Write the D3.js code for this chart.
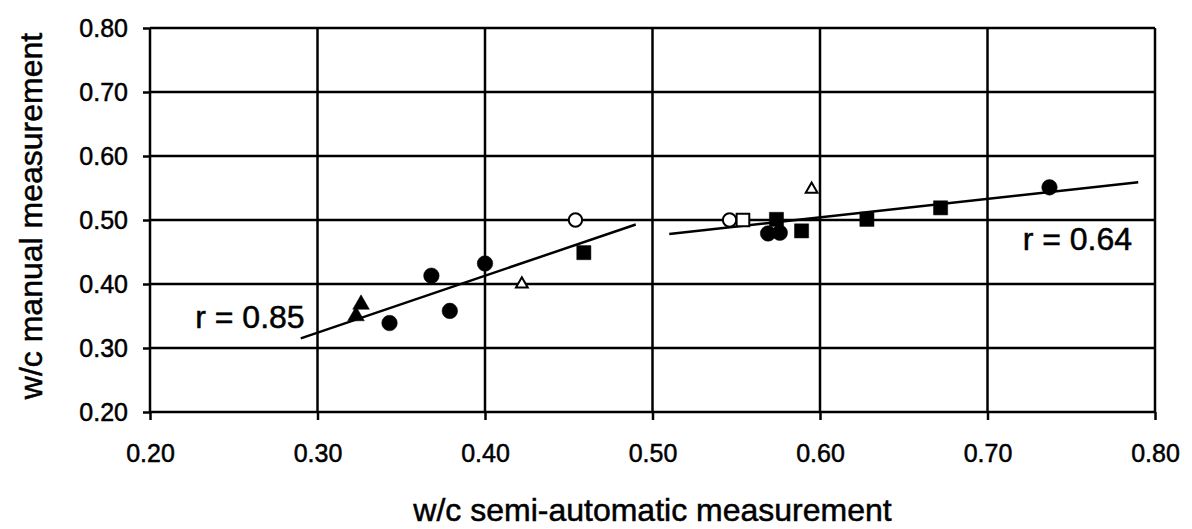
<!DOCTYPE html>
<html>
<head>
<meta charset="utf-8">
<script src="https://cdn.jsdelivr.net/npm/d3@7"></script>
<style>
  body { margin: 0; background: #fff; }
  svg { display: block; font-family: "Liberation Sans", Arial, sans-serif; }
  svg text { fill: #000; stroke: #000; stroke-width: 0.5; }
  .axis text { font-size: 25px; }
  .axis path, .axis line { stroke: #000; stroke-width: 2.5; }
  .grid line { stroke: #000; stroke-width: 2.5; }
  .title { font-size: 32px; }
</style>
</head>
<body>
<svg id="chart" width="1192" height="529"></svg>
<script>
// tick values
const xTicks = [0.20, 0.30, 0.40, 0.50, 0.60, 0.70, 0.80];
const yTicks = [0.20, 0.30, 0.40, 0.50, 0.60, 0.70, 0.80];

// points: [semi-automatic, manual]
const filledCircles = [[0.343, 0.339], [0.368, 0.413], [0.379, 0.358], [0.400, 0.432],
                       [0.569, 0.479], [0.576, 0.480], [0.737, 0.551]];
const filledTriangles = [[0.326, 0.368], [0.323, 0.350]];
const filledSquares = [[0.459, 0.449], [0.574, 0.501], [0.589, 0.483], [0.628, 0.501], [0.672, 0.519]];
const openCircles = [[0.454, 0.500], [0.546, 0.500]];
const openSquares = [[0.554, 0.500]];
const openTriangles = [[0.422, 0.400], [0.595, 0.548]];

// fitted lines and their labels
const fitLeft = [[0.290, 0.315], [0.490, 0.493]];
const fitRight = [[0.510, 0.478], [0.790, 0.559]];
const rLabels = [
    { text: "r = 0.85", x: 0.227, y: 0.331 },
    { text: "r = 0.64", x: 0.721, y: 0.453 }
];

const svg = d3.select("#chart");
const plotLeft = 150, plotRight = 1155, plotTop = 28, plotBottom = 412;

const x = d3.scaleLinear().domain([0.2, 0.8]).range([plotLeft, plotRight]);
const y = d3.scaleLinear().domain([0.2, 0.8]).range([plotBottom, plotTop]);

// grid
const grid = svg.append("g").attr("class", "grid");
grid.selectAll("line.h").data(yTicks).join("line")
    .attr("class", "h")
    .attr("x1", plotLeft).attr("x2", plotRight)
    .attr("y1", d => y(d)).attr("y2", d => y(d));
grid.selectAll("line.v").data(xTicks).join("line")
    .attr("class", "v")
    .attr("x1", d => x(d)).attr("x2", d => x(d))
    .attr("y1", plotTop).attr("y2", plotBottom);

// axes
svg.append("g").attr("class", "axis")
    .attr("transform", `translate(${plotLeft},0)`)
    .call(d3.axisLeft(y).tickValues(yTicks).tickFormat(d3.format(".2f"))
        .tickSize(7).tickPadding(15).tickSizeOuter(0))
    .call(g => g.select(".domain").remove());

svg.append("g").attr("class", "axis")
    .attr("transform", `translate(0,${plotBottom})`)
    .call(d3.axisBottom(x).tickValues(xTicks).tickFormat(d3.format(".2f"))
        .tickSize(8).tickPadding(24).tickSizeOuter(0))
    .call(g => g.select(".domain").remove());

// fitted lines
const line = d3.line().x(d => x(d[0])).y(d => y(d[1]));
[fitLeft, fitRight].forEach(fit => {
    svg.append("path")
        .attr("d", line(fit))
        .attr("fill", "none")
        .attr("stroke", "#000")
        .attr("stroke-width", 2.5);
});

// markers
function drawMarkers(data, type, size, filled) {
    svg.append("g").selectAll("path").data(data).join("path")
        .attr("transform", d => `translate(${x(d[0])},${y(d[1])})`)
        .attr("d", d3.symbol().type(type).size(size))
        .attr("fill", filled ? "#000" : "#fff")
        .attr("stroke", "#000")
        .attr("stroke-width", filled ? 0.5 : 2);
}

drawMarkers(openCircles, d3.symbolCircle, 140, false);
drawMarkers(openSquares, d3.symbolSquare, 160, false);
drawMarkers(openTriangles, d3.symbolTriangle, 60, false);
drawMarkers(filledSquares, d3.symbolSquare, 200, true);
drawMarkers(filledTriangles, d3.symbolTriangle, 120, true);
drawMarkers(filledCircles, d3.symbolCircle, 190, true);

// r labels
svg.selectAll("text.r").data(rLabels).join("text")
    .attr("class", "title r")
    .attr("x", d => x(d.x))
    .attr("y", d => y(d.y))
    .text(d => d.text);

// axis titles
svg.append("text").attr("class", "title")
    .attr("x", (plotLeft + plotRight) / 2)
    .attr("y", 521)
    .attr("text-anchor", "middle")
    .text("w/c semi-automatic measurement");

svg.append("text").attr("class", "title")
    .attr("transform", `translate(42,216) rotate(-90)`)
    .attr("text-anchor", "middle")
    .text("w/c manual measurement");
</script>
</body>
</html>
